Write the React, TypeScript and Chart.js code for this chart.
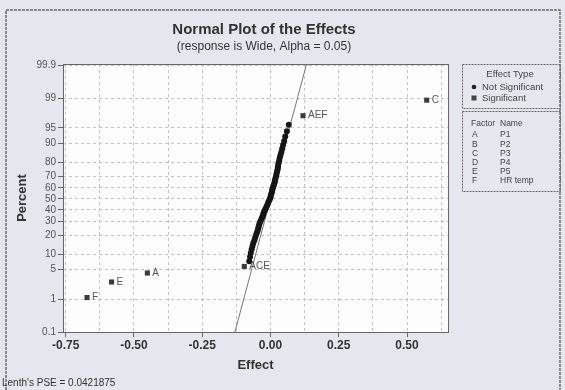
import React, { useEffect, useRef } from 'react';
import { Chart, registerables } from 'chart.js';
Chart.register(...registerables);

const PSE = 0.0421875;

const sigLabels = ['F', 'E', 'A', 'ACE', 'AEF', 'C'];
const sigEffects = [-0.672, -0.582, -0.451, -0.096, 0.119, 0.572];
const sigPercents = [1.1, 2.68, 4.26, 5.84, 97.32, 98.9];

const nsEffects = [
  -0.078, -0.075, -0.072, -0.069, -0.066, -0.063, -0.059, -0.056, -0.053, -0.05,
  -0.047, -0.045, -0.043, -0.041, -0.038, -0.035, -0.032, -0.029, -0.027, -0.025,
  -0.022, -0.019, -0.016, -0.013, -0.01, -0.008, -0.005, -0.002, 0.0, 0.001,
  0.003, 0.005, 0.006, 0.008, 0.01, 0.012, 0.014, 0.016, 0.017, 0.019,
  0.021, 0.022, 0.024, 0.026, 0.027, 0.028, 0.03, 0.032, 0.034, 0.037,
  0.04, 0.043, 0.046, 0.05, 0.054, 0.06, 0.067,
];
const nsPercents = [
  7.41, 8.99, 10.57, 12.15, 13.72, 15.3, 16.88, 18.45, 20.03, 21.61,
  23.19, 24.76, 26.34, 27.92, 29.5, 31.07, 32.65, 34.23, 35.8, 37.38,
  38.96, 40.54, 42.11, 43.69, 45.27, 46.85, 48.42, 50.0, 51.58, 53.15,
  54.73, 56.31, 57.89, 59.46, 61.04, 62.62, 64.2, 65.77, 67.35, 68.93,
  70.5, 72.08, 73.66, 75.24, 76.81, 78.39, 79.97, 81.55, 83.12, 84.7,
  86.28, 87.85, 89.43, 91.01, 92.59, 94.16, 95.74,
];

const lineEffects = [-0.15, 0.15];

const yTickPercents = [0.1, 1, 5, 10, 20, 30, 40, 50, 60, 70, 80, 90, 95, 99, 99.9];
const yTickLabels = ['0.1', '1', '5', '10', '20', '30', '40', '50', '60', '70', '80', '90', '95', '99', '99.9'];
const xTickValues = [-0.75, -0.625, -0.5, -0.375, -0.25, -0.125, 0, 0.125, 0.25, 0.375, 0.5, 0.625];
const xTickLabels = ['-0.75', '', '-0.50', '', '-0.25', '', '0.00', '', '0.25', '', '0.50', ''];

const factorCodes = ['A', 'B', 'C', 'D', 'E', 'F'];
const factorNames = ['P1', 'P2', 'P3', 'P4', 'P5', 'HR temp'];

function probit(p: number): number {
  const a = [-3.969683028665376e1, 2.209460984245205e2, -2.759285104469687e2, 1.38357751867269e2, -3.066479806614716e1, 2.506628277459239];
  const b = [-5.447609879822406e1, 1.615858368580409e2, -1.556989798598866e2, 6.680131188771972e1, -1.328068155288572e1];
  const c = [-7.784894002430293e-3, -3.223964580411365e-1, -2.400758277161838, -2.549732539343734, 4.374664141464968, 2.938163982698783];
  const d = [7.784695709041462e-3, 3.224671290700398e-1, 2.445134137142996, 3.754408661907416];
  const pl = 0.02425;
  const ph = 1 - pl;
  let q: number, r: number;
  if (p < pl) {
    q = Math.sqrt(-2 * Math.log(p));
    return (((((c[0] * q + c[1]) * q + c[2]) * q + c[3]) * q + c[4]) * q + c[5]) / ((((d[0] * q + d[1]) * q + d[2]) * q + d[3]) * q + 1);
  }
  if (p <= ph) {
    q = p - 0.5;
    r = q * q;
    return ((((((a[0] * r + a[1]) * r + a[2]) * r + a[3]) * r + a[4]) * r + a[5]) * q) / (((((b[0] * r + b[1]) * r + b[2]) * r + b[3]) * r + b[4]) * r + 1);
  }
  q = Math.sqrt(-2 * Math.log(1 - p));
  return -(((((c[0] * q + c[1]) * q + c[2]) * q + c[3]) * q + c[4]) * q + c[5]) / ((((d[0] * q + d[1]) * q + d[2]) * q + d[3]) * q + 1);
}

const z = (pct: number) => probit(pct / 100);

const BG = '#e4e7ed';

const decorPlugin = {
  id: 'decor',
  beforeDraw(chart: any) {
    const { ctx, chartArea: ca, width, height } = chart;
    ctx.save();
    ctx.fillStyle = BG;
    ctx.fillRect(0, 0, width, height);
    ctx.fillStyle = '#fdfdfd';
    ctx.fillRect(ca.left, ca.top, ca.right - ca.left, ca.bottom - ca.top);
    // outer border
    ctx.strokeStyle = '#6a6a6a';
    ctx.lineWidth = 1.5;
    ctx.setLineDash([3, 1]);
    ctx.strokeRect(6, 10, 554, 420);
    ctx.restore();
  },
  afterDatasetsDraw(chart: any) {
    const { ctx, chartArea: ca } = chart;
    ctx.save();
    ctx.strokeStyle = '#666';
    ctx.lineWidth = 1;
    ctx.setLineDash([]);
    ctx.strokeRect(ca.left + 0.5, ca.top + 0.5, ca.right - ca.left, ca.bottom - ca.top);
    // labels for significant effects
    const meta = chart.getDatasetMeta(1);
    ctx.fillStyle = '#555';
    ctx.font = '10px "Liberation Sans", Arial, sans-serif';
    ctx.textAlign = 'left';
    ctx.textBaseline = 'middle';
    meta.data.forEach((el: any, i: number) => {
      ctx.fillText(sigLabels[i], el.x + 5, el.y);
    });
    ctx.restore();
  },
  afterDraw(chart: any) {
    const { ctx, chartArea: ca } = chart;
    ctx.save();
    ctx.fillStyle = '#333';
    ctx.textAlign = 'center';
    ctx.textBaseline = 'middle';
    ctx.font = 'bold 15px "Liberation Sans", Arial, sans-serif';
    ctx.fillText('Normal Plot of the Effects', 264, 30);
    ctx.font = '12px "Liberation Sans", Arial, sans-serif';
    ctx.fillText('(response is Wide, Alpha = 0.05)', 264, 47);
    // axis titles
    ctx.font = 'bold 13px "Liberation Sans", Arial, sans-serif';
    ctx.fillText('Effect', (ca.left + ca.right) / 2, 365);
    ctx.save();
    ctx.translate(22, (ca.top + ca.bottom) / 2);
    ctx.rotate(-Math.PI / 2);
    ctx.fillText('Percent', 0, 0);
    ctx.restore();
    // PSE text
    ctx.textAlign = 'left';
    ctx.font = '10px "Liberation Sans", Arial, sans-serif';
    ctx.fillText("Lenth's PSE = " + String(PSE), 2, 383);

    // legend boxes
    ctx.strokeStyle = '#666';
    ctx.lineWidth = 1;
    ctx.setLineDash([2, 1]);
    ctx.strokeRect(462.5, 64.5, 98, 44);
    ctx.strokeRect(462.5, 111.5, 98, 80);
    ctx.setLineDash([]);
    ctx.fillStyle = '#444';
    ctx.font = '9.5px "Liberation Sans", Arial, sans-serif';
    ctx.textAlign = 'center';
    ctx.fillText('Effect Type', 510, 74);
    ctx.textAlign = 'left';
    ctx.fillText('Not Significant', 482, 87);
    ctx.fillText('Significant', 482, 98);
    ctx.fillStyle = '#222';
    ctx.beginPath();
    ctx.arc(474, 87, 2.3, 0, Math.PI * 2);
    ctx.fill();
    ctx.fillStyle = '#444';
    ctx.fillRect(471.5, 95.5, 5, 5);
    ctx.font = '8.5px "Liberation Sans", Arial, sans-serif';
    ctx.fillText('Factor', 471, 124);
    ctx.fillText('Name', 500, 124);
    factorCodes.forEach((f, i) => {
      const yy = 135 + i * 9.2;
      ctx.fillText(f, 472, yy);
      ctx.fillText(factorNames[i], 500, yy);
    });
    ctx.restore();
  },
};

export default function App() {
  const ref = useRef<HTMLCanvasElement | null>(null);
  useEffect(() => {
    if (!ref.current) return;
    const chart = new Chart(ref.current, {
      type: 'scatter',
      data: {
        datasets: [
          {
            label: 'Not Significant',
            data: nsEffects.map((e, i) => ({ x: e, y: z(nsPercents[i]) })),
            pointStyle: 'circle',
            pointRadius: 3,
            backgroundColor: '#151515',
            borderColor: '#151515',
            borderWidth: 0,
          },
          {
            label: 'Significant',
            data: sigEffects.map((e, i) => ({ x: e, y: z(sigPercents[i]) })),
            pointStyle: 'rect',
            pointRadius: 3.6,
            backgroundColor: '#3a3a3a',
            borderColor: '#3a3a3a',
            borderWidth: 0,
          },
          {
            type: 'line',
            label: 'Reference',
            data: lineEffects.map((e) => ({ x: e, y: e / PSE })),
            borderColor: '#777',
            borderWidth: 1,
            pointRadius: 0,
            showLine: true,
            fill: false,
          } as any,
        ],
      },
      options: {
        animation: false,
        responsive: false,
        devicePixelRatio: 1,
        layout: { padding: { left: 0, right: 117, top: 64, bottom: 18 } },
        plugins: { legend: { display: false }, tooltip: { enabled: false }, title: { display: false } },
        scales: {
          x: {
            type: 'linear',
            min: -0.76,
            max: 0.65,
            afterBuildTicks: (s: any) => {
              s.ticks = xTickValues.map((v) => ({ value: v }));
            },
            afterFit: (s: any) => {
              s.height = 40;
            },
            ticks: {
              autoSkip: false,
              maxRotation: 0,
              padding: 1,
              color: '#333',
              font: { family: '"Liberation Sans", Arial, sans-serif', size: 12, weight: 'bold' },
              callback: (_v: any, i: number) => xTickLabels[i],
            },
            grid: {
              color: '#c4c4c4',
              lineWidth: 1,
              tickLength: 5,
              tickColor: (c: any) => (xTickLabels[c.index] ? '#666' : 'rgba(0,0,0,0)'),
            },
            border: { display: false, dash: [3, 3] },
          },
          y: {
            type: 'linear',
            min: z(0.1),
            max: 3.13,
            afterBuildTicks: (s: any) => {
              s.ticks = yTickPercents.map((p) => ({ value: z(p) }));
            },
            afterFit: (s: any) => {
              s.width = 63;
            },
            ticks: {
              autoSkip: false,
              padding: 2,
              color: '#555',
              font: { family: '"Liberation Sans", Arial, sans-serif', size: 10 },
              callback: (_v: any, i: number) => yTickLabels[i],
            },
            grid: {
              color: '#c4c4c4',
              lineWidth: 1,
              tickLength: 5,
              tickColor: '#666',
            },
            border: { display: false, dash: [3, 3] },
          },
        },
      } as any,
      plugins: [decorPlugin],
    });
    return () => chart.destroy();
  }, []);
  return (
    <div style={{ position: 'fixed', left: 0, top: 0, width: 565, height: 390 }}>
      <canvas ref={ref} width={565} height={390} style={{ display: 'block', width: 565, height: 390 }} />
    </div>
  );
}
